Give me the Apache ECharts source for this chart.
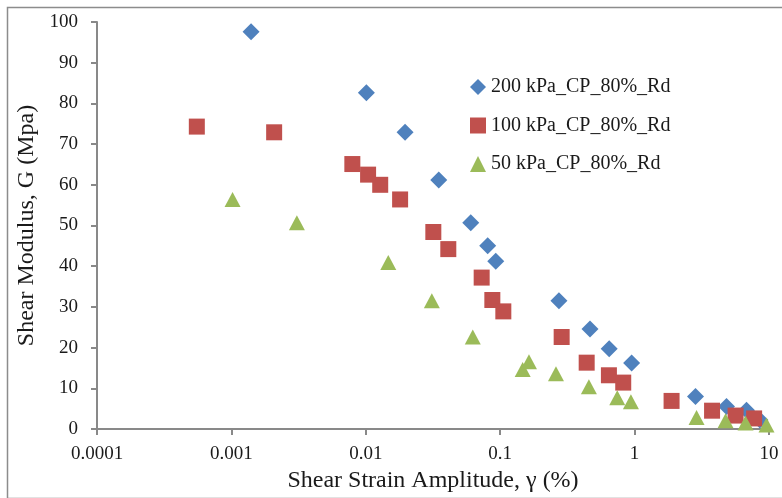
<!DOCTYPE html>
<html>
<head>
<meta charset="utf-8">
<script src="https://cdn.jsdelivr.net/npm/echarts@6/dist/echarts.min.js"></script>
<style>
  html, body { margin: 0; padding: 0; background: #fff; }
  #chart { width: 782px; height: 498px; }
</style>
</head>
<body>
<div id="chart"></div>
<script>
// shear strain amplitude (%) and shear modulus G (MPa)
var seriesNames = ['200 kPa_CP_80%_Rd', '100 kPa_CP_80%_Rd', '50 kPa_CP_80%_Rd'];

var strain200 = [0.0014, 0.0101, 0.0196, 0.0349, 0.0604, 0.0807, 0.0927, 0.2735, 0.466, 0.647, 0.95, 2.84, 4.83, 6.8, 8.55];
var g200      = [97.6, 82.6, 72.9, 61.2, 50.7, 45.0, 41.2, 31.5, 24.6, 19.7, 16.2, 8.0, 5.5, 4.6, 2.2];

var strain100 = [0.000553, 0.00208, 0.00794, 0.0104, 0.0128, 0.018, 0.0318, 0.0411, 0.0728, 0.0874, 0.1055, 0.2866, 0.44, 0.644, 0.823, 1.884, 3.77, 5.64, 7.75];
var g100      = [74.3, 72.9, 65.1, 62.5, 60.0, 56.4, 48.4, 44.2, 37.2, 31.7, 28.9, 22.6, 16.3, 13.2, 11.4, 6.9, 4.5, 3.3, 2.6];

var strain50  = [0.00102, 0.00307, 0.0147, 0.031, 0.0625, 0.147, 0.1637, 0.26, 0.457, 0.743, 0.939, 2.89, 4.75, 6.69, 9.58];
var g50       = [56.4, 50.7, 40.9, 31.5, 22.6, 14.6, 16.5, 13.6, 10.4, 7.7, 6.7, 2.8, 2.0, 1.5, 1.0];

var xTickLabels = ['0.0001', '0.001', '0.01', '0.1', '1', '10'];

function pairs(xs, ys) {
  var out = [];
  for (var i = 0; i < xs.length; i++) out.push([xs[i], ys[i]]);
  return out;
}

var font = 'Liberation Serif';
var axisGrey = '#898989';

var chart = echarts.init(document.getElementById('chart'));
var option = {
  animation: false,
  color: ['#4F81BD', '#C0504D', '#9BBB59'],
  graphic: [{
    type: 'rect',
    left: 5, top: 5,
    shape: { width: 780, height: 491 },
    style: { fill: 'none', stroke: '#8c8c8c', lineWidth: 1.5 },
    silent: true
  }],
  grid: { left: 97, right: 13, top: 22, bottom: 67 },
  legend: {
    orient: 'vertical',
    left: 465, top: 72,
    itemWidth: 16, itemHeight: 16,
    itemGap: 18.5,
    textStyle: { fontFamily: font, fontSize: 20, color: '#1a1a1a' },
    data: [
      { name: seriesNames[0], icon: 'diamond' },
      { name: seriesNames[1], icon: 'rect' },
      { name: seriesNames[2], icon: 'triangle' }
    ]
  },
  xAxis: {
    type: 'log',
    logBase: 10,
    min: 0.0001, max: 10,
    name: 'Shear Strain Amplitude, γ (%)',
    nameLocation: 'middle',
    nameGap: 40,
    nameTextStyle: { fontFamily: font, fontSize: 24, color: '#1a1a1a' },
    axisLine: { lineStyle: { color: axisGrey, width: 2 } },
    axisTick: { inside: false, length: 6, lineStyle: { color: axisGrey, width: 2 } },
    minorTick: { show: false },
    splitLine: { show: false },
    axisLabel: {
      margin: 16,
      fontFamily: font, fontSize: 19, color: '#1a1a1a',
      formatter: function (v) {
        var e = Math.round(Math.log10(v));
        return xTickLabels[e + 4];
      }
    }
  },
  yAxis: {
    type: 'value',
    min: 0, max: 100, interval: 10,
    name: 'Shear Modulus, G (Mpa)',
    nameLocation: 'middle',
    nameGap: 55,
    nameTextStyle: { fontFamily: font, fontSize: 24, color: '#1a1a1a' },
    axisLine: { show: true, lineStyle: { color: axisGrey, width: 2 } },
    axisTick: { show: true, length: 6, lineStyle: { color: axisGrey, width: 2 } },
    splitLine: { show: false },
    axisLabel: { margin: 19, fontFamily: font, fontSize: 19, color: '#1a1a1a' }
  },
  series: [
    { name: seriesNames[0], type: 'scatter', symbol: 'diamond', symbolSize: 17, itemStyle: { opacity: 1 }, data: pairs(strain200, g200) },
    { name: seriesNames[1], type: 'scatter', symbol: 'rect', symbolSize: 16, itemStyle: { opacity: 1 }, data: pairs(strain100, g100) },
    { name: seriesNames[2], type: 'scatter', symbol: 'triangle', symbolSize: [16, 15], itemStyle: { opacity: 1 }, data: pairs(strain50, g50) }
  ]
};
chart.setOption(option);
</script>
</body>
</html>
